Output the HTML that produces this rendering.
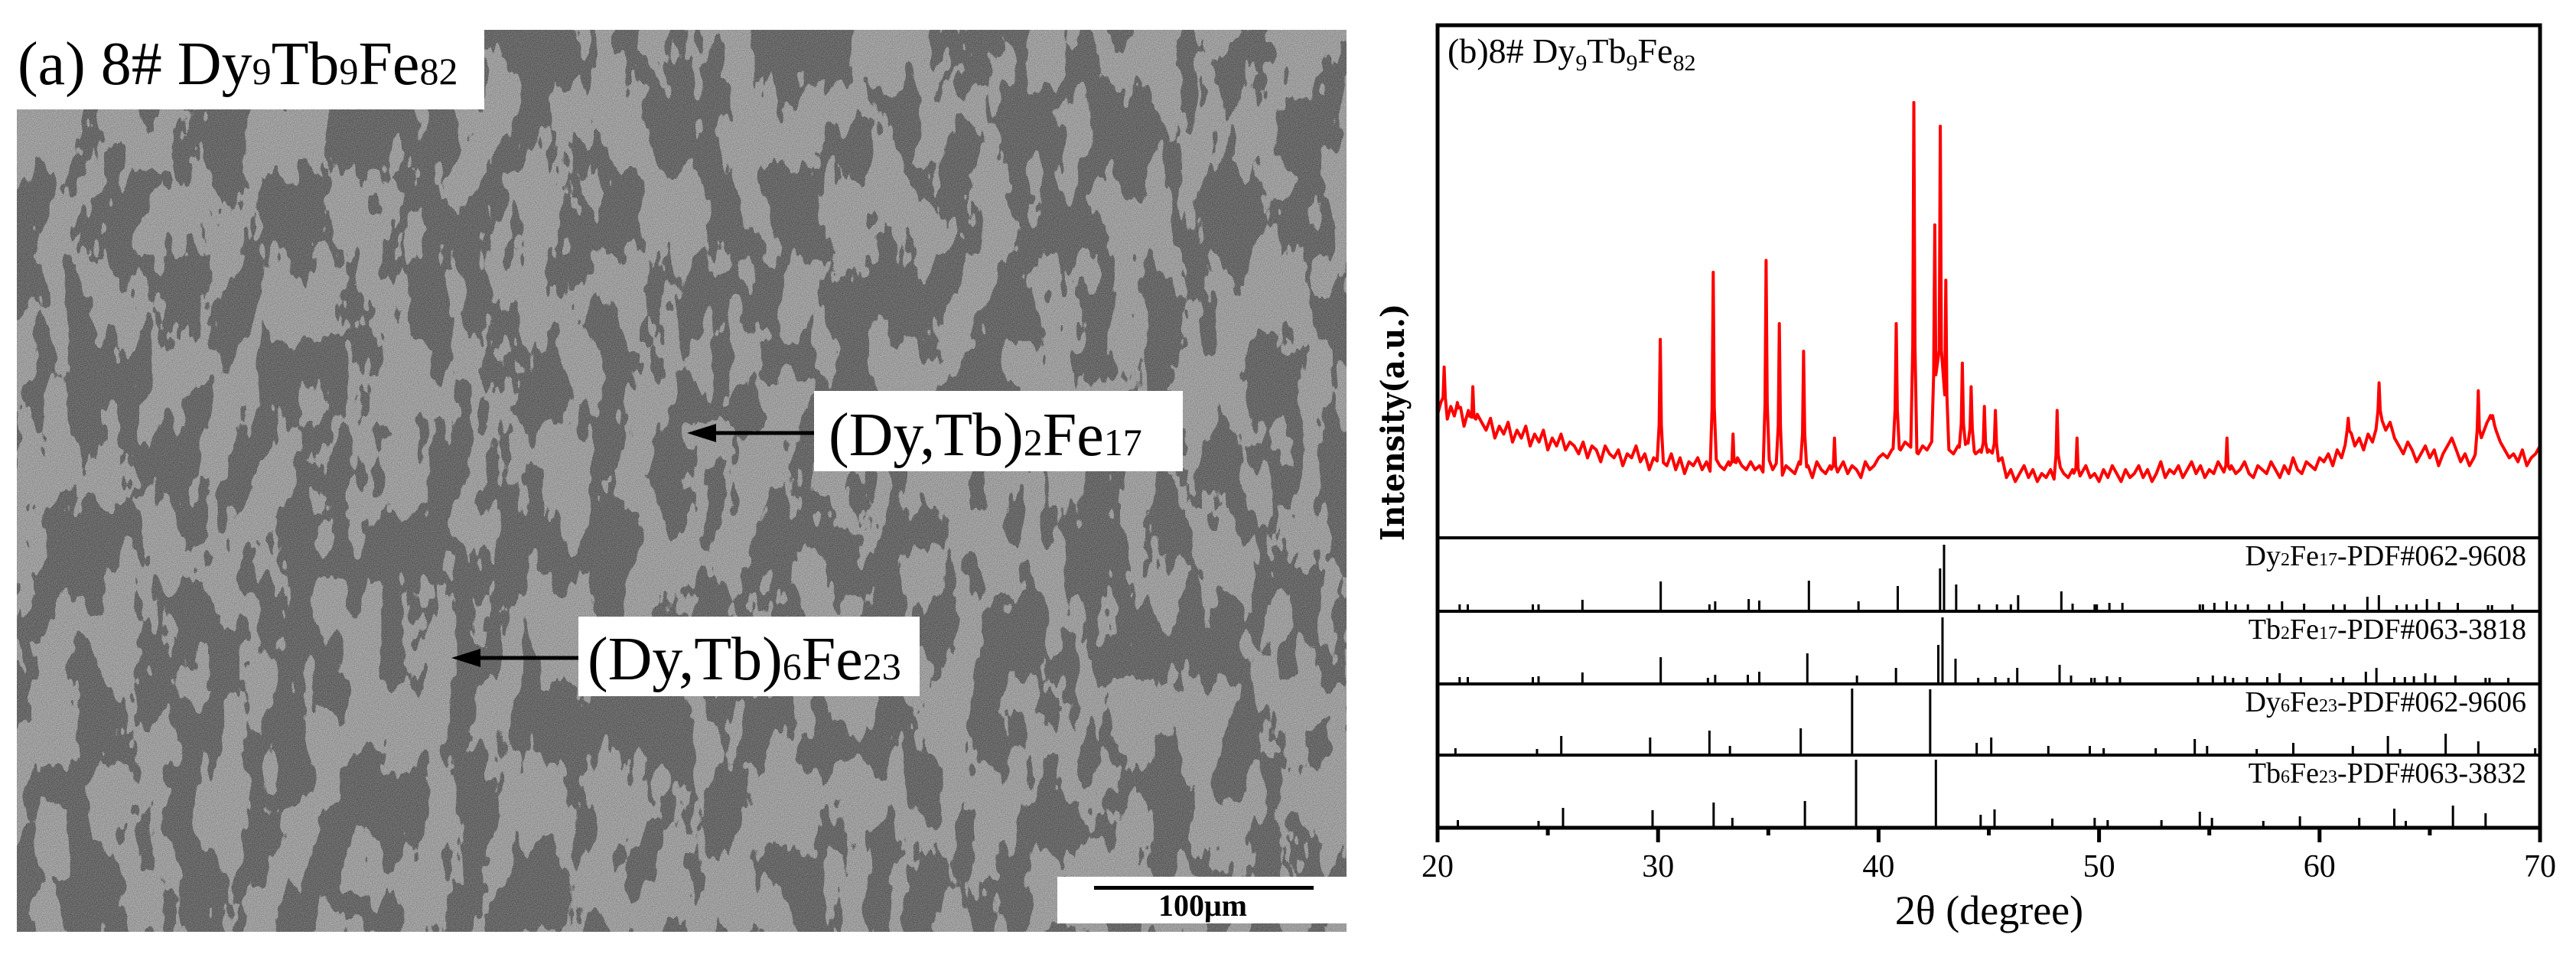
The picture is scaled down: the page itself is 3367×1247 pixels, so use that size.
<!DOCTYPE html>
<html><head><meta charset="utf-8"><style>
html,body{margin:0;padding:0;background:#fff;}
svg{display:block;}
text{font-family:"Liberation Serif","DejaVu Serif",serif;}
</style></head><body>
<svg id="fig" width="3367" height="1247" viewBox="0 0 3367 1247" xmlns="http://www.w3.org/2000/svg">
<defs>
<filter id="semf" x="0" y="0" width="100%" height="100%" color-interpolation-filters="sRGB">
<feTurbulence type="fractalNoise" baseFrequency="0.022 0.009" numOctaves="4" seed="11" result="t"/>
<feColorMatrix in="t" type="matrix" values="1 0 0 0 0 1 0 0 0 0 1 0 0 0 0 0 0 0 0 1" result="g"/>
<feComponentTransfer in="g" result="b">
<feFuncR type="discrete" tableValues="0.40 0.40 0.40 0.40 0.40 0.61 0.61 0.61 0.61 0.61"/>
<feFuncG type="discrete" tableValues="0.40 0.40 0.40 0.40 0.40 0.61 0.61 0.61 0.61 0.61"/>
<feFuncB type="discrete" tableValues="0.40 0.40 0.40 0.40 0.40 0.61 0.61 0.61 0.61 0.61"/>
</feComponentTransfer>
<feTurbulence type="fractalNoise" baseFrequency="0.9" numOctaves="1" seed="3" result="n"/>
<feColorMatrix in="n" type="matrix" values="1 0 0 0 0 1 0 0 0 0 1 0 0 0 0 0 0 0 0 1" result="ng"/>
<feComposite in="b" in2="ng" operator="arithmetic" k1="0" k2="1" k3="0.35" k4="-0.17"/>
</filter>
</defs>
<g>
<rect x="22" y="39" width="1738" height="1179" fill="#888" filter="url(#semf)"/>
<rect x="22" y="39" width="611" height="104" fill="#fff"/>
<rect x="0" y="0" width="22" height="150" fill="#fff"/>
<text x="23" y="110" font-size="80">(a) 8# Dy<tspan font-size="50">9</tspan>Tb<tspan font-size="50">9</tspan>Fe<tspan font-size="50">82</tspan></text>
<rect x="1064" y="511" width="482" height="105" fill="#fff"/>
<text x="1083" y="595" font-size="80">(Dy,Tb)<tspan font-size="50">2</tspan>Fe<tspan font-size="50">17</tspan></text>
<line x1="1064" y1="566" x2="925" y2="566" stroke="#000" stroke-width="5"/>
<polygon points="898,566 936,554 936,578" fill="#000"/>
<rect x="756" y="806" width="446" height="104" fill="#fff"/>
<text x="768" y="888" font-size="80">(Dy,Tb)<tspan font-size="50">6</tspan>Fe<tspan font-size="50">23</tspan></text>
<line x1="756" y1="860" x2="615" y2="860" stroke="#000" stroke-width="5"/>
<polygon points="590,860 628,848 628,872" fill="#000"/>
<rect x="1382" y="1146" width="378" height="61" fill="#fff"/>
<rect x="1430" y="1158" width="287" height="5" fill="#000"/>
<text x="1572" y="1197" font-size="40" font-weight="bold" text-anchor="middle">100μm</text>
</g>
<g id="chart"></g>
</svg>
<script>
// ---- data ----
const bgStart = 20.0, bgStep = 0.2;
const bgValues = [21,25,19,23,20,24,18,22,17,21,19,
17,20,15,18,16,19,14,17,15,18,13,16,14,17,12,15,13,16,12,14,
13,11,14,10,13,12,9,13,11,10,12,8,11,10,13,9,11,7,10,9,
9,8,11,7,10,6,9,8,10,7,9,6,10,8,7,9,6,10,8,7,9,7,8,6,10,7,9,5,8,7,6,9,7,8,5,9,7,6,8,5,7,9,6,8,7,5,9,7,8,10,
11,10,12,13,12,14,13,12,11,13,12,14,15,13,14,12,11,13,12,14,13,11,12,10,12,11,9,10,
5,7,4,6,8,5,7,4,6,5,7,4,8,6,5,7,4,6,8,5,6,4,7,5,8,6,4,7,5,6,8,5,7,4,6,9,5,7,6,8,5,7,9,6,8,5,7,6,9,7,5,8,6,7,9,6,5,8,7,6,9,7,5,8,6,10,7,6,9,8,7,10,
9,11,8,12,10,14,17,13,15,12,16,14,18,20,17,19,15,13,11,14,12,9,11,13,10,12,8,11,13,15,12,9,11,8,10,13,16,19,21,17,14,12,10,11,9,12,8,10,11,13];
const peakPos = [20.3,20.9,21.6,30.1,32.5,33.4,34.9,35.5,36.6,38.0,40.8,41.6,42.55,42.8,43.05,43.8,44.2,44.8,45.3,48.1,49.0,55.8,61.3,62.7,67.2,67.8];
const peakInt = [33,24,28,40,57,16,60,44,37,15,44,100,69,94,55,34,28,23,22,22,15,15,20,29,27,20];

const ref1Pos = [21.0,21.37,24.32,24.58,26.57,30.12,32.33,32.59,34.11,34.59,36.84,39.09,40.87,42.79,42.97,43.52,44.56,45.37,46.0,46.33,48.29,48.8,49.8,49.9,50.47,51.06,54.57,54.71,55.23,55.79,56.19,56.75,57.71,58.3,59.3,60.62,61.14,62.17,62.69,63.5,63.95,64.39,64.87,65.42,66.27,67.64,67.82,68.75];
const ref1Int = [9,9,9,9,15,39,9,13,16,14,40,13,33,56,87,35,9,9,9,21,26,10,9,9,11,11,9,9,11,13,9,9,9,13,10,9,9,19,21,8,9,9,16,12,11,8,8,9];
const ref2Pos = [21.0,21.37,24.32,24.58,26.57,30.12,32.26,32.59,34.07,34.59,36.77,39.02,40.79,42.71,42.9,43.49,44.52,45.3,45.89,46.29,48.21,48.73,49.65,49.8,50.36,50.95,54.49,55.16,55.71,56.08,56.71,57.63,58.19,59.15,60.55,61.07,62.1,62.58,63.39,63.87,64.28,64.8,65.24,66.16,67.53,67.71,68.56];
const ref2Int = [9,9,9,10,15,35,8,12,12,16,40,11,21,51,87,33,8,9,8,21,25,11,8,8,10,9,9,11,10,8,9,9,14,9,8,9,16,21,9,9,10,14,11,11,8,8,8];
const ref3Pos = [20.81,24.51,25.61,29.64,32.33,33.26,36.47,38.8,42.34,44.45,45.11,47.7,49.58,50.21,52.57,54.34,54.9,57.15,58.81,61.51,63.1,63.65,65.72,67.2,69.78];
const ref3Int = [9,8,25,23,32,12,35,87,86,16,23,12,12,9,9,21,12,8,16,12,25,8,28,18,9];
const ref4Pos = [20.92,24.58,25.69,29.75,32.52,33.37,36.66,38.98,42.6,44.63,45.26,47.88,49.8,50.39,52.83,54.57,55.12,57.45,59.11,61.8,63.39,63.91,66.05,67.53];
const ref4Int = [10,9,26,23,33,13,35,89,89,17,24,12,13,10,10,21,13,9,15,13,25,9,29,19];
const refLabels = [["Dy","2","Fe","17","-PDF#062-9608"],["Tb","2","Fe","17","-PDF#063-3818"],["Dy","6","Fe","23","-PDF#062-9606"],["Tb","6","Fe","23","-PDF#063-3832"]];
const xTicks = [20,30,40,50,60,70];
const xMinor = [25,35,45,55,65];

// ---- layout ----
const NS = "http://www.w3.org/2000/svg";
const L = 1879, R = 3320, T = 33, B = 1082;
const panelEdges = [703,799,894,987,1082];
const xMin = 20, xMax = 70;
function xs(v){ return L + (v - xMin) / (xMax - xMin) * (R - L); }
function ys(v){ return 650 - v * 5.16; }
const g = document.getElementById('chart');
function mk(tag, attrs, parent){
  const e = document.createElementNS(NS, tag);
  for (const k in attrs) e.setAttribute(k, attrs[k]);
  (parent || g).appendChild(e);
  return e;
}

function bgAt(x){
  const i = (x - bgStart) / bgStep;
  const i0 = Math.max(0, Math.min(bgValues.length - 2, Math.floor(i)));
  const f = i - i0;
  return bgValues[i0] * (1 - f) + bgValues[i0 + 1] * f;
}
const W = 0.14;
let pts = [];
for (let i = 0; i < bgValues.length; i++) {
  const x = bgStart + i * bgStep;
  if (peakPos.some(p => Math.abs(x - p) < W)) continue;
  pts.push([x, bgValues[i]]);
}
peakPos.forEach((p, k) => {
  const I = peakInt[k];
  const b = bgAt(p);
  pts.push([p, I]);
  pts.push([p - 0.05, b + (I - b) * 0.3]);
  pts.push([p + 0.05, b + (I - b) * 0.3]);
  [p - W, p + W].forEach(x => {
    if (!peakPos.some(q => q !== p && Math.abs(x - q) < W)) pts.push([x, bgAt(x)]);
  });
});
pts.sort((a, b) => a[0] - b[0]);
const d = pts.map((q, i) => (i ? 'L' : 'M') + xs(q[0]).toFixed(1) + ' ' + ys(q[1]).toFixed(1)).join(' ');
const line = mk('path', {d: d, fill: 'none', stroke: '#ff0000', 'stroke-width': 4, 'stroke-linejoin': 'round'});



const refPos = [ref1Pos, ref2Pos, ref3Pos, ref4Pos];
const refInt = [ref1Int, ref2Int, ref3Int, ref4Int];
const refNames = ['dy2fe17', 'tb2fe17', 'dy6fe23', 'tb6fe23'];
refPos.forEach((arr, p) => {
  const bottom = panelEdges[p + 1];
  arr.forEach((v, i) => {
    const s = mk('line', {x1: xs(v), x2: xs(v), y1: bottom, y2: bottom - refInt[p][i], stroke: '#000', 'stroke-width': 3});
    
    
  });
  const lab = refLabels[p];
  const t = mk('text', {x: 3302, y: panelEdges[p] + 36, 'font-size': 38, 'text-anchor': 'end'});
  
  
  lab.forEach((s, j) => {
    const ts = mk('tspan', {'font-size': (j % 2 === 1 && j < 4) ? 24 : 38}, t);
    ts.textContent = s;
  });
});

panelEdges.slice(0, 4).forEach((y) => {
  const dl = mk('line', {x1: L, x2: R, y1: y, y2: y, stroke: '#000', 'stroke-width': 4});
  
  
});
const fr = mk('rect', {x: L, y: T, width: R - L, height: B - T, fill: 'none', stroke: '#000', 'stroke-width': 5});



xTicks.forEach(v => {
  const tk = mk('line', {x1: xs(v), x2: xs(v), y1: B, y2: B + 19, stroke: '#000', 'stroke-width': 5});
  
  
  const tl = mk('text', {x: xs(v), y: 1146, 'font-size': 42, 'text-anchor': 'middle'});
  
  
  tl.textContent = v;
});
xMinor.forEach(v => {
  const tk = mk('line', {x1: xs(v), x2: xs(v), y1: B, y2: B + 10, stroke: '#000', 'stroke-width': 5});
  
  
});

const xl = mk('text', {x: 2600, y: 1208, 'font-size': 54, 'text-anchor': 'middle'});


xl.textContent = '2θ (degree)';
const yl = mk('text', {x: 0, y: 0, 'font-size': 42, 'font-weight': 'bold', 'text-anchor': 'middle', transform: 'translate(1835,552) rotate(-90)', textLength: 310, lengthAdjust: 'spacingAndGlyphs', style: 'font-family:"DejaVu Serif",serif'});


yl.textContent = 'Intensity(a.u.)';
const tt = mk('text', {x: 1892, y: 82, 'font-size': 46});


[['(b)8# Dy',0],['9',1],['Tb',0],['9',1],['Fe',0],['82',1]].forEach(s => {
  const ts = mk('tspan', s[1] ? {'font-size': 30} : {'font-size': 46}, tt);
  ts.textContent = s[0];
});
const spans = tt.querySelectorAll('tspan');
spans.forEach((s, i) => { if (i % 2 === 1) { s.setAttribute('dy', 10); } else if (i > 0) { s.setAttribute('dy', -10); } });
</script>
</body></html>
